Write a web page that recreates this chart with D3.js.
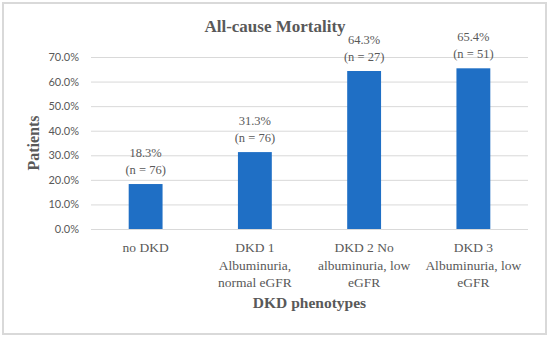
<!DOCTYPE html>
<html>
<head>
<meta charset="utf-8">
<script src="https://cdn.jsdelivr.net/npm/d3@7"></script>
<style>
  body { margin: 0; background: #fff; }
  svg { display: block; }
</style>
</head>
<body>
<svg></svg>
<script>
let categories = [
  ["no DKD"],
  ["DKD 1", "Albuminuria,", "normal eGFR"],
  ["DKD 2 No", "albuminuria, low", "eGFR"],
  ["DKD 3", "Albuminuria, low", "eGFR"]
];
let values = [18.3, 31.3, 64.3, 65.4]; // mortality %
let counts = [76, 76, 27, 51];
let yTicks = [0, 10, 20, 30, 40, 50, 60, 70];

let width = 550;
let height = 337;
let plotLeft = 91, plotRight = 528, plotTop = 57, plotBottom = 229;

let serif = "'Liberation Serif', 'DejaVu Serif', serif";
let textColor = "#595959";

let svg = d3.select("svg").attr("width", width).attr("height", height);

// outer frame
svg.append("rect")
  .attr("x", 3).attr("y", 3)
  .attr("width", 543).attr("height", 331)
  .attr("fill", "#fff")
  .attr("stroke", "#d9d9d9")
  .attr("stroke-width", 2);

let xScale = d3.scaleBand()
  .domain(d3.range(values.length))
  .range([plotLeft, plotRight])
  .paddingInner(0.69)
  .paddingOuter(0.345);

let yScale = d3.scaleLinear()
  .domain([0, 70])
  .range([plotBottom, plotTop]);

// gridlines + y labels
let yAxis = d3.axisLeft(yScale)
  .tickValues(yTicks)
  .tickSize(-(plotRight - plotLeft))
  .tickPadding(12)
  .tickFormat(d => d.toFixed(1) + "%");

let gy = svg.append("g")
  .attr("transform", "translate(" + plotLeft + ",0)")
  .call(yAxis);
gy.select(".domain").remove();
gy.selectAll(".tick line").attr("stroke", "#d9d9d9").attr("stroke-width", 1);
gy.selectAll(".tick text")
  .attr("fill", textColor)
  .style("font-family", "Lato, 'Open Sans', sans-serif")
  .style("font-size", "11px");

// bars
svg.selectAll("rect.bar")
  .data(values)
  .enter()
  .append("rect")
  .attr("class", "bar")
  .attr("x", (d, i) => xScale(i))
  .attr("y", d => yScale(d))
  .attr("width", xScale.bandwidth())
  .attr("height", d => plotBottom - yScale(d))
  .attr("fill", "#1f6fc5");

// data labels
let labels = svg.selectAll("text.val")
  .data(values)
  .enter()
  .append("text")
  .attr("class", "val")
  .attr("text-anchor", "middle")
  .attr("fill", textColor)
  .style("font-family", serif)
  .style("font-size", "12.5px");
labels.append("tspan")
  .attr("x", (d, i) => xScale(i) + xScale.bandwidth() / 2)
  .attr("y", d => yScale(d) - 27)
  .text(d => d.toFixed(1) + "%");
labels.append("tspan")
  .attr("x", (d, i) => xScale(i) + xScale.bandwidth() / 2)
  .attr("y", d => yScale(d) - 10)
  .text((d, i) => "(n = " + counts[i] + ")");

// category labels
let cat = svg.selectAll("text.cat")
  .data(categories)
  .enter()
  .append("text")
  .attr("class", "cat")
  .attr("text-anchor", "middle")
  .attr("fill", textColor)
  .style("font-family", serif)
  .style("font-size", "13.5px");
cat.each(function (lines, i) {
  d3.select(this).selectAll("tspan")
    .data(lines)
    .enter()
    .append("tspan")
    .attr("x", xScale(i) + xScale.bandwidth() / 2)
    .attr("y", (l, j) => 252 + j * 17.5)
    .text(l => l);
});

// title
svg.append("text")
  .attr("x", 275).attr("y", 32)
  .attr("text-anchor", "middle")
  .attr("fill", textColor)
  .style("font-family", serif)
  .style("font-weight", "bold")
  .style("font-size", "17px")
  .text("All-cause Mortality");

// axis titles
svg.append("text")
  .attr("x", (plotLeft + plotRight) / 2).attr("y", 308)
  .attr("text-anchor", "middle")
  .attr("fill", textColor)
  .style("font-family", serif)
  .style("font-weight", "bold")
  .style("font-size", "15.5px")
  .text("DKD phenotypes");

svg.append("text")
  .attr("transform", "translate(39," + (plotTop + plotBottom) / 2 + ") rotate(-90)")
  .attr("text-anchor", "middle")
  .attr("fill", textColor)
  .style("font-family", serif)
  .style("font-weight", "bold")
  .style("font-size", "16px")
  .text("Patients");
</script>
</body>
</html>
